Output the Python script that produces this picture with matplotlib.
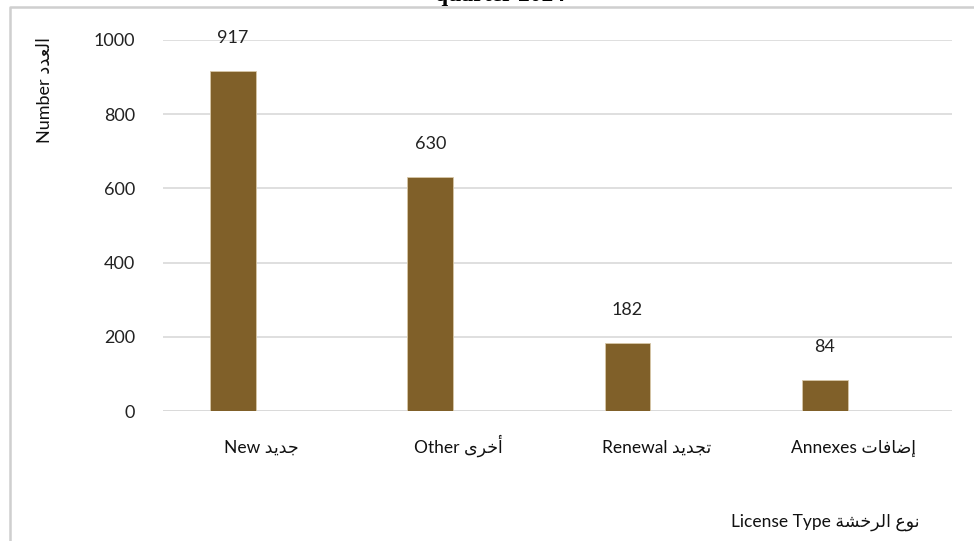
import matplotlib
matplotlib.use("Agg")
import matplotlib.pyplot as plt
from matplotlib.lines import Line2D

plt.rcParams['font.family'] = ['Lato', 'DejaVu Sans']
plt.rcParams['savefig.bbox'] = 'standard'

# data
categories_en = ['New', 'Other', 'Renewal', 'Annexes']
# Arabic words already shaped (presentation forms, visual order) since
# matplotlib has no bidi / shaping support
categories_ar = ['\uFEAA\uFEF3\uFEAA\uFE9F',            # جديد
                 '\uFEEF\uFEAE\uFEA7\uFE83',            # أخرى
                 '\uFEAA\uFEF3\uFEAA\uFEA0\uFE97',      # تجديد
                 '\uFE95\uFE8E\uFED3\uFE8E\uFEBF\uFE87']  # إضافات
values = [917, 630, 182, 84]
y_ticks = [0, 200, 400, 600, 800, 1000]

ylabel_ar = '\uFEA9\uFEAA\uFECC\uFEDF\uFE8D'  # العدد
xlabel_ar = '\uFE94\uFEB8\uFEA7\uFEAE\uFEDF\uFE8D \uFEC9\uFEEE\uFEE7'  # نوع الرخصة

bar_color = '#806029'
grid_color = '#D9D9D9'

fig = plt.figure(figsize=(9.74, 5.41), dpi=100)
W, H = 974, 541

ax = fig.add_axes([163 / W, 1 - 411 / H, 789 / W, 371 / H])

# outer chart frame (only top and left edges are in view), drawn in pixels
frame = Line2D([980, 9.5, 9.5], [H - 7, H - 7, -5], color='#CFCFCF',
               linewidth=1.8, transform=None, clip_on=False)
fig.add_artist(frame)

x = list(range(len(values)))
bar_x = [i - 0.145 for i in x]
ax.bar(bar_x, values, width=0.232, color=bar_color,
       edgecolor='#D8C8A8', linewidth=0.6, zorder=3)

for bx, v in zip(bar_x, values):
    ax.annotate(str(v), (bx, v), xytext=(0, 33), textcoords='offset pixels',
                ha='center', va='center', fontsize=13, color='#222222')

ax.set_xlim(-0.5, 3.5)
ax.set_ylim(0, 1000)
ax.set_yticks(y_ticks)
ax.set_yticklabels([str(t) for t in y_ticks], fontsize=13, color='#222222')
ax.set_xticks(x)
ax.set_xticklabels([f'{en} {ar}' for en, ar in zip(categories_en, categories_ar)],
                   fontsize=12.5, color='#111111')
for lbl in ax.get_xticklabels():
    lbl.set_verticalalignment('baseline')
ax.tick_params(axis='y', length=0, pad=20)
ax.tick_params(axis='x', length=0, pad=30)
ax.grid(axis='y', color=grid_color, linewidth=1.2, zorder=0)
for s in ax.spines.values():
    s.set_visible(False)
ax.axhline(0, color=grid_color, linewidth=1.2, zorder=1)

fig.text(45 / W, 1 - 90 / H, 'Number ' + ylabel_ar, rotation=90,
         ha='center', va='center', fontsize=13, color='#111111')
fig.text(825 / W, 1 - 522 / H, 'License Type ' + xlabel_ar,
         ha='center', va='center', fontsize=12.5, color='#111111')

# title is mostly cut off at the top in the reference
fig.text(500 / W, 1 - 0.5 / H, 'quarter 2024', ha='center', va='baseline',
         fontfamily='Liberation Serif', fontweight='bold', fontsize=17)

fig.savefig('out.png', dpi=100, facecolor='white')
